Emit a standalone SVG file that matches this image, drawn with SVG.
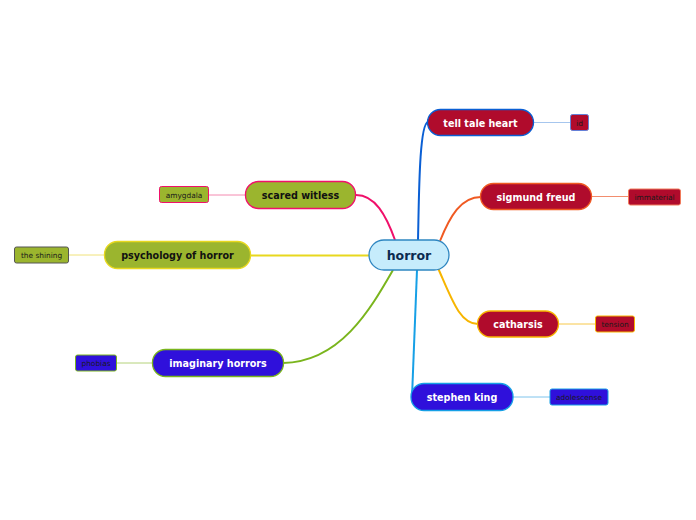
<svg xmlns="http://www.w3.org/2000/svg" width="696" height="520" viewBox="0 0 696 520">
<style>
text{font-family:"DejaVu Sans","Liberation Sans",sans-serif;text-anchor:middle;dominant-baseline:central}
.main{font-size:9.6px;font-weight:bold;fill:#ffffff}
.mainD{font-size:9.6px;font-weight:bold;fill:#111111}
.sub{font-size:7.4px;fill:#1a1a1a}
.c{fill:none;stroke-width:2}
.s{fill:none;stroke-width:1}
.red{fill:#b00b2c}
.grn{fill:#9bb52e}
.blu{fill:#2f10db}
</style>
<rect width="696" height="520" fill="#ffffff"/>
<g id="connectors">
<path class="c" stroke="#0a5fd4" d="M418,240 C419,200 419,124 428,122"/>
<path class="c" stroke="#f05a22" d="M440,241 C450,216 461,197 481,197"/>
<path class="c" stroke="#f7b500" d="M438,268 C452,300 460,324 478,324"/>
<path class="c" stroke="#16a0e6" d="M417,270 C415,320 413,370 412,397"/>
<path class="c" stroke="#f0106a" d="M395,240 C386,215 375,195 356,195"/>
<path class="c" stroke="#e8d81e" stroke-width="2.5" d="M369,255.5 L250,255.5"/>
<path class="c" stroke="#7ab51d" d="M393,270 C370,310 340,362 283,363"/>
<path class="s" stroke="#a6c6ee" stroke-width="1.5" d="M534,122.5 L570,122.5"/>
<path class="s" stroke="#f28d6e" d="M591,196.5 L628,196.5"/>
<path class="s" stroke="#f7c84a" d="M558,324 L595,324"/>
<path class="s" stroke="#7fc4ec" d="M513,397 L550,397"/>
<path class="s" stroke="#f48ab0" d="M245,195 L208,195"/>
<path class="s" stroke="#f0e27a" d="M104,255 L68,255"/>
<path class="s" stroke="#b4d27a" d="M152,363 L116,363"/>
</g>
<g id="n-horror">
<rect x="369" y="240" width="80" height="30" rx="15" fill="#c6ecfc" stroke="#2e86c1" stroke-width="1.3"/>
<text x="409" y="255.5" font-size="12.5" font-weight="bold" fill="#0b2a50">horror</text>
</g>
<g id="n-tell">
<rect x="427.5" y="109.5" width="106" height="26" rx="13" class="red" stroke="#0a5fd4" stroke-width="1.3"/>
<text class="main" x="480.5" y="123">tell tale heart</text>
</g>
<g id="n-id">
<rect x="570.5" y="114.5" width="18" height="16" rx="2" class="red" stroke="#6480d8" stroke-width="1"/>
<text class="sub" x="579.5" y="123">id</text>
</g>
<g id="n-freud">
<rect x="480.5" y="183.5" width="111" height="26" rx="13" class="red" stroke="#f05a22" stroke-width="1.3"/>
<text class="main" x="536" y="197">sigmund freud</text>
</g>
<g id="n-immaterial">
<rect x="628.5" y="189" width="52" height="16" rx="2" class="red" stroke="#f07a5a" stroke-width="1"/>
<text class="sub" x="654.5" y="197.5">immaterial</text>
</g>
<g id="n-catharsis">
<rect x="477.5" y="311" width="81" height="26" rx="13" class="red" stroke="#f7b500" stroke-width="1.3"/>
<text class="main" x="518" y="324.5">catharsis</text>
</g>
<g id="n-tension">
<rect x="595.5" y="316" width="39" height="16" rx="2" class="red" stroke="#f7b500" stroke-width="1"/>
<text class="sub" x="615" y="324.5">tension</text>
</g>
<g id="n-king">
<rect x="411" y="383.5" width="102" height="27" rx="13" class="blu" stroke="#16a0e6" stroke-width="1.3"/>
<text class="main" x="462" y="397.5">stephen king</text>
</g>
<g id="n-adolescense">
<rect x="550" y="389" width="58" height="16" rx="2" class="blu" stroke="#16a0e6" stroke-width="1"/>
<text class="sub" x="579" y="397.5">adolescense</text>
</g>
<g id="n-scared">
<rect x="245.5" y="181.5" width="110" height="27" rx="13" class="grn" stroke="#f0106a" stroke-width="1.3"/>
<text class="mainD" x="300.5" y="195.5">scared witless</text>
</g>
<g id="n-amygdala">
<rect x="159.5" y="186.5" width="49" height="16" rx="2" class="grn" stroke="#f0106a" stroke-width="1"/>
<text class="sub" x="184" y="195">amygdala</text>
</g>
<g id="n-psych">
<rect x="104.5" y="241.5" width="146" height="27" rx="13" class="grn" stroke="#e8d81e" stroke-width="1.3"/>
<text class="mainD" x="177.5" y="255.5">psychology of horror</text>
</g>
<g id="n-shining">
<rect x="14.5" y="247" width="54" height="16" rx="2" class="grn" stroke="#555555" stroke-width="1"/>
<text class="sub" x="41.5" y="255.5">the shining</text>
</g>
<g id="n-imaginary">
<rect x="152.5" y="349.5" width="131" height="27" rx="13" class="blu" stroke="#7ab51d" stroke-width="1.3"/>
<text class="main" x="218" y="363.5">imaginary horrors</text>
</g>
<g id="n-phobias">
<rect x="75.5" y="355" width="41" height="16" rx="2" class="blu" stroke="#7ab51d" stroke-width="1"/>
<text class="sub" x="96" y="363.5">phobias</text>
</g>
</svg>
